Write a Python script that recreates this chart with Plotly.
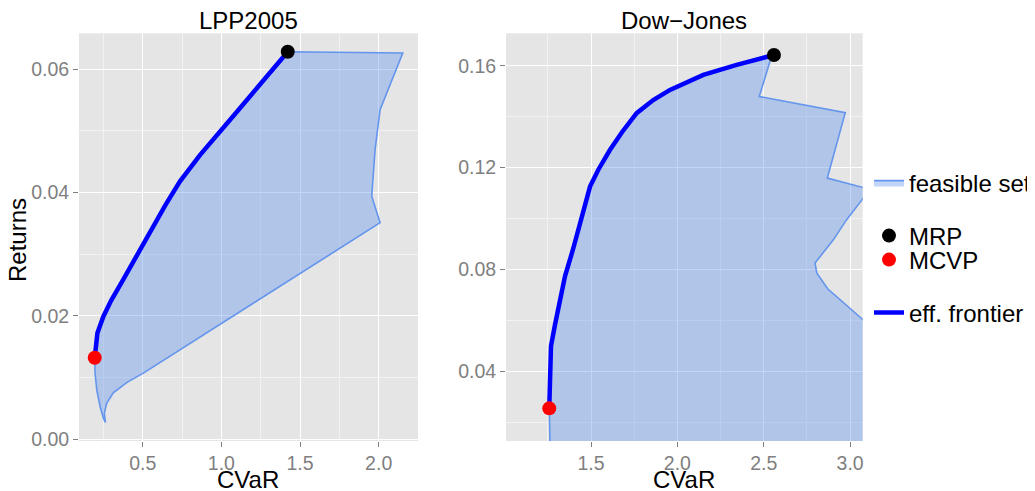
import plotly.graph_objects as go

# ---------------- data ----------------
# LPP2005 panel
lpp_frontier_cvar = [0.195, 0.200, 0.212, 0.250, 0.300, 0.377, 0.483, 0.645, 0.737, 0.865, 1.076, 1.289, 1.422]
lpp_frontier_ret = [0.0132, 0.0152, 0.0172, 0.0199, 0.0225, 0.0259, 0.0307, 0.0380, 0.0418, 0.0461, 0.0524, 0.0589, 0.0628]
# feasible-set boundary (excluding frontier), from the MRP clockwise to the MCVP
lpp_set_cvar = [2.153, 2.009, 1.977, 1.956, 2.009, 0.504, 0.400, 0.313, 0.271, 0.256, 0.263, 0.250, 0.229, 0.208, 0.197]
lpp_set_ret = [0.0626, 0.0534, 0.0469, 0.0394, 0.0351, 0.0107, 0.0092, 0.0075, 0.0058, 0.0042, 0.0027, 0.0034, 0.0053, 0.0080, 0.0107]
lpp_mrp = (1.422, 0.0628)
lpp_mcvp = (0.195, 0.0132)

# Dow-Jones panel
dj_frontier_cvar = [1.258, 1.259, 1.262, 1.268, 1.290, 1.318, 1.349, 1.397, 1.446, 1.494, 1.542, 1.610, 1.680, 1.764, 1.860, 1.957, 2.150, 2.343, 2.559]
dj_frontier_ret = [0.0256, 0.0318, 0.0400, 0.0500, 0.0580, 0.0680, 0.0774, 0.0883, 0.1000, 0.1126, 0.1192, 0.1270, 0.1340, 0.1414, 0.1465, 0.1505, 0.1564, 0.1603, 0.1642]
dj_set_cvar = [2.536, 2.474, 2.972, 2.868, 3.116, 2.980, 2.903, 2.797, 2.807, 2.870, 2.942, 3.073, 3.170, 3.300, 1.266, 1.262, 1.259]
dj_set_ret = [0.1616, 0.1479, 0.1416, 0.1159, 0.1115, 0.0996, 0.0917, 0.0826, 0.0787, 0.0725, 0.0683, 0.0605, 0.0547, 0.0000, 0.0000, 0.0128, 0.0200]
dj_mrp = (2.559, 0.1642)
dj_mcvp = (1.258, 0.0256)

panel_titles = ["LPP2005", "Dow\u2212Jones"]
x_title = "CVaR"
y_title = "Returns"
legend_labels = ["feasible set", "MRP", "MCVP", "eff. frontier"]

# ---------------- styles ----------------
FONT = "Liberation Sans"
FILL = "rgba(100,149,237,0.4)"
EDGE = "#6495ED"
OFF = 8  # page body margin
W, H = 1035 - OFF, 491 - OFF
TXT = 24
TICK = 19.5


def px(xp):
    return (xp - OFF) / W


def py(yp):
    return 1 - (yp - OFF) / H


fig = go.Figure()


def add_panel(xa, ya, set_x, set_y, fr_x, fr_y, mrp, mcvp, show):
    poly_x = [mrp[0]] + list(set_x) + list(fr_x)
    poly_y = [mrp[1]] + list(set_y) + list(fr_y)
    fig.add_trace(go.Scatter(
        x=poly_x, y=poly_y, mode="lines", fill="toself", fillcolor=FILL,
        line=dict(color=EDGE, width=1.6), name=legend_labels[0],
        showlegend=show, legend="legend", xaxis=xa, yaxis=ya, hoverinfo="skip"))
    fig.add_trace(go.Scatter(
        x=fr_x, y=fr_y, mode="lines", line=dict(color="#0000FF", width=4.5),
        name=legend_labels[3], showlegend=show, legend="legend4",
        xaxis=xa, yaxis=ya))
    fig.add_trace(go.Scatter(
        x=[mrp[0]], y=[mrp[1]], mode="markers",
        marker=dict(color="black", size=14), name=legend_labels[1],
        showlegend=show, legend="legend2", xaxis=xa, yaxis=ya, cliponaxis=False))
    fig.add_trace(go.Scatter(
        x=[mcvp[0]], y=[mcvp[1]], mode="markers",
        marker=dict(color="#FF0000", size=14), name=legend_labels[2],
        showlegend=show, legend="legend3", xaxis=xa, yaxis=ya, cliponaxis=False))


add_panel("x", "y", lpp_set_cvar, lpp_set_ret, lpp_frontier_cvar, lpp_frontier_ret, lpp_mrp, lpp_mcvp, True)
add_panel("x2", "y2", dj_set_cvar, dj_set_ret, dj_frontier_cvar, dj_frontier_ret, dj_mrp, dj_mcvp, False)

y_dom = [py(441), py(33.3)]
dom1 = [px(79), px(418)]
dom2 = [px(506), px(862.7)]

axis_common = dict(
    showgrid=True, gridcolor="white", gridwidth=1.2, zeroline=False, showline=False,
    ticks="outside", ticklen=5, tickwidth=1.1, tickcolor="#7F7F7F",
    tickfont=dict(family=FONT, size=TICK, color="#7F7F7F"), automargin=False,
)


def minor(d):
    return dict(dtick=d, showgrid=True, gridcolor="#F2F2F2", gridwidth=0.6, ticks="")


fig.update_layout(
    width=W, height=H, margin=dict(l=0, r=0, t=0, b=0, autoexpand=False),
    paper_bgcolor="white", plot_bgcolor="#E5E5E5",
    font=dict(family=FONT, color="black"),
    xaxis=dict(domain=dom1, range=[0.095, 2.25], tick0=0, dtick=0.5, tickformat=".1f",
               minor=minor(0.25), anchor="y", **axis_common),
    yaxis=dict(domain=y_dom, range=[-0.0003, 0.0658], tick0=0, dtick=0.02, tickformat=".2f",
               minor=minor(0.01), anchor="x", **axis_common),
    xaxis2=dict(domain=dom2, range=[1.0075, 3.073], tick0=0, dtick=0.5, tickformat=".1f",
                minor=minor(0.25), anchor="y2", **axis_common),
    yaxis2=dict(domain=y_dom, range=[0.0128, 0.1727], tick0=0, dtick=0.04, tickformat=".2f",
                minor=minor(0.02), anchor="x2", **axis_common),
    showlegend=True,
)

leg_common = dict(x=px(869), xanchor="left", yanchor="middle", bgcolor="rgba(0,0,0,0)",
                  font=dict(family=FONT, size=TXT, color="black"), borderwidth=0)
fig.update_layout(
    legend=dict(y=py(183), **leg_common),
    legend2=dict(y=py(236), **leg_common),
    legend3=dict(y=py(260), **leg_common),
    legend4=dict(y=py(313), **leg_common),
)

ann = []
for txt, cx in zip(panel_titles, [248, 684]):
    ann.append(dict(text=txt, x=px(cx), y=py(21), xref="paper", yref="paper",
                    xanchor="center", yanchor="middle", showarrow=False,
                    font=dict(family=FONT, size=TXT, color="black")))
for cx in [248, 684]:
    ann.append(dict(text=x_title, x=px(cx), y=py(479), xref="paper", yref="paper",
                    xanchor="center", yanchor="middle", showarrow=False,
                    font=dict(family=FONT, size=TXT, color="black")))
ann.append(dict(text=y_title, x=px(18), y=py(240), xref="paper", yref="paper",
                xanchor="center", yanchor="middle", showarrow=False, textangle=-90,
                font=dict(family=FONT, size=TXT, color="black")))
fig.update_layout(annotations=ann)

fig.write_html("out.html")
